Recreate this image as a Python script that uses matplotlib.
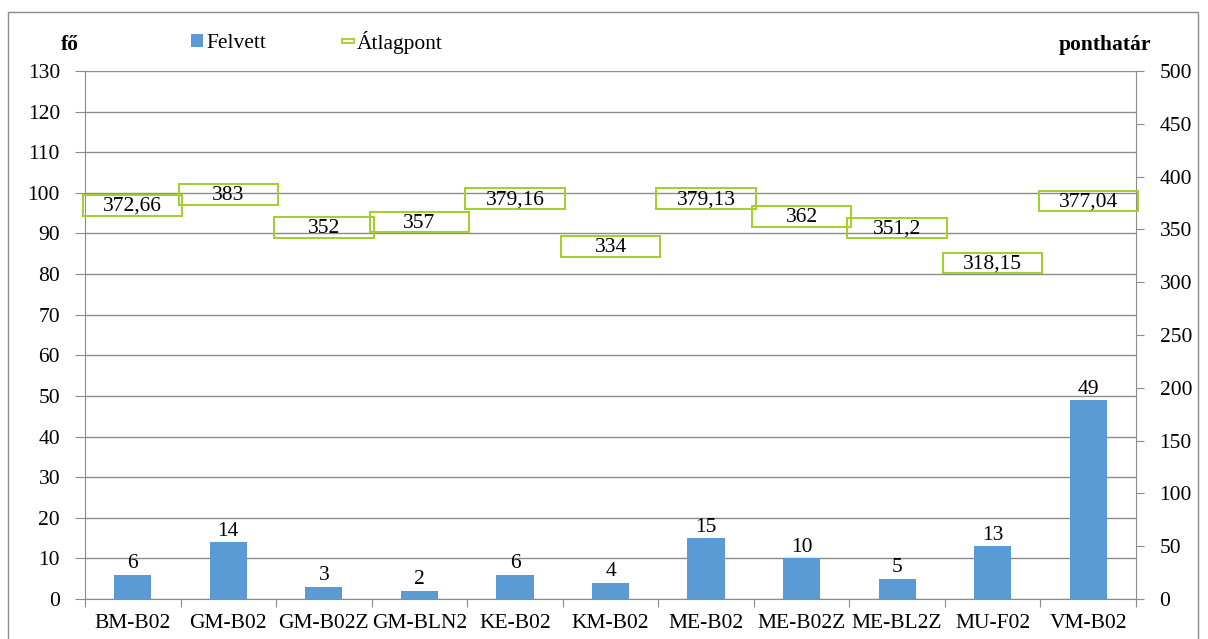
import matplotlib.pyplot as plt
import numpy as np
from matplotlib.patches import Rectangle, Patch

plt.rcParams['font.family'] = ['Liberation Serif', 'DejaVu Serif']

# data
categories = ['BM-B02', 'GM-B02', 'GM-B02Z', 'GM-BLN2', 'KE-B02', 'KM-B02',
              'ME-B02', 'ME-B02Z', 'ME-BL2Z', 'MU-F02', 'VM-B02']
felvett = [6, 14, 3, 2, 6, 4, 15, 10, 5, 13, 49]
atlagpont = [372.66, 383, 352, 357, 379.16, 334, 379.13, 362, 351.2, 318.15, 377.04]
atlag_labels = ['372,66', '383', '352', '357', '379,16', '334', '379,13', '362', '351,2', '318,15', '377,04']

blue = '#5B9BD5'
green = '#A2CF2A'
grid_col = '#8C8C8C'
fs = 15.5

fig = plt.figure(figsize=(12.08, 6.39), dpi=100)
ax = fig.add_axes([85/1208, 1 - 599/639, (1136-85)/1208, (599-71)/639])
ax2 = ax.twinx()

x = np.arange(len(categories))
bars = ax.bar(x, felvett, width=0.39, color=blue, zorder=3)
ax.bar_label(bars, labels=[str(v) for v in felvett], padding=1, fontsize=fs)

ax.set_xlim(-0.5, len(categories) - 0.5)
ax.set_ylim(0, 130)
ax.set_yticks(np.arange(0, 131, 10))
ax.yaxis.grid(True, color=grid_col, linewidth=1)
ax.set_axisbelow(True)

ax.set_xticks(np.arange(-0.5, len(categories), 1))
ax.set_xticklabels([])
ax.set_xticks(x, minor=True)
ax.set_xticklabels(categories, minor=True)
ax.tick_params(axis='x', which='major', length=6, color=grid_col)
ax.tick_params(axis='x', which='minor', length=0, labelsize=fs, pad=11)
ax.tick_params(axis='y', length=7, color=grid_col, labelsize=fs, pad=11)

for s in ['top', 'right']:
    ax.spines[s].set_visible(False)
for s in ['left', 'bottom']:
    ax.spines[s].set_color(grid_col)

# secondary axis with boxed averages
ax2.set_ylim(0, 500)
ax2.set_yticks(np.arange(0, 501, 50))
ax2.tick_params(axis='y', length=6, color=grid_col, labelsize=fs, pad=11)
for s in ['top', 'left', 'bottom']:
    ax2.spines[s].set_visible(False)
ax2.spines['right'].set_color(grid_col)

bw = 1.04
bh = 19.5
for i, (v, lab) in enumerate(zip(atlagpont, atlag_labels)):
    ax2.add_patch(Rectangle((i - bw/2, v - bh/2), bw, bh, fill=False,
                            edgecolor=green, linewidth=1.4, zorder=4, clip_on=False))
    ax2.text(i, v - 1, lab, ha='center', va='center', fontsize=fs, zorder=5)

# axis titles
fig.text(70/1208, 1 - 45/639, 'fő', fontsize=fs, fontweight='bold', ha='center', va='center')
fig.text(1105/1208, 1 - 45/639, 'ponthatár', fontsize=fs, fontweight='bold', ha='center', va='center')

# legend
handles = [Patch(facecolor=blue, edgecolor='none'),
           Patch(facecolor='white', edgecolor=green, linewidth=1.3)]
leg = fig.legend(handles, ['Felvett', 'Átlagpont'], ncol=2, frameon=False,
                 loc='center left', bbox_to_anchor=(172/1208, 1 - 42/639),
                 fontsize=fs, handlelength=0.55, handleheight=0.55, handletextpad=0.15,
                 columnspacing=3.5)
# flatten the second legend key into a thin bar
p = leg.get_patches()[1]
p.set_height(p.get_height() * 0.35)
p.set_y(p.get_y() + p.get_height() * 0.9)

# outer frame
fig.patches.append(Rectangle((8/1208, -0.01), 1190/1208, 1 - 12/639 + 0.01,
                             transform=fig.transFigure, fill=False,
                             edgecolor=grid_col, linewidth=1))

fig.savefig('out.png', dpi=100)
